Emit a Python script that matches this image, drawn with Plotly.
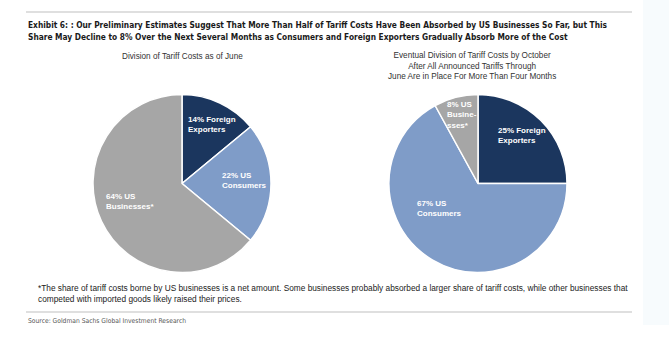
import plotly.graph_objects as go

W, H = 669, 341

# Shares of tariff costs (percent)
categories = ["Foreign Exporters", "US Consumers", "US Businesses*"]
june_shares = [14, 22, 64]
october_shares = [25, 67, 8]
slice_colors = ["#1b365e", "#7f9cc8", "#a6a6a6"]

# In-slice label wording (after the percentage)
june_label_text = ["Foreign<br>Exporters", "US<br>Consumers", "US<br>Businesses*"]
october_label_text = ["Foreign<br>Exporters", "US<br>Consumers", "US<br>Busine-<br>sses*"]

title_lines = [
    "Exhibit 6: : Our Preliminary Estimates Suggest That More Than Half of Tariff Costs Have Been Absorbed by US Businesses So Far, but This",
    "Share May Decline to 8% Over the Next Several Months as Consumers and Foreign Exporters Gradually Absorb More of the Cost",
]
june_title = "Division of Tariff Costs as of June"
october_title = ("Eventual Division of Tariff Costs by October<br>After All Announced Tariffs Through"
                 "<br>June Are in Place For More Than Four Months")
footnote = ("*The share of tariff costs borne by US businesses is a net amount. Some businesses probably absorbed a larger share of tariff costs, while other businesses that"
            "<br>competed with imported goods likely raised their prices.")
source = "Source: Goldman Sachs Global Investment Research"

NARROW = "DejaVu Sans Condensed, DejaVu Sans"


def px_x(x):
    return x / W


def px_y(y):
    return 1 - y / H


def pie_domain(cx, cy, r):
    return dict(x=[px_x(cx - r), px_x(cx + r)], y=[px_y(cy + r), px_y(cy - r)])


fig = go.Figure()

fig.add_trace(go.Pie(
    labels=categories, values=june_shares, sort=False, direction="clockwise", rotation=0,
    marker=dict(colors=slice_colors, line=dict(color="white", width=1.5)),
    textinfo="none", hoverinfo="label+value", showlegend=False,
    domain=pie_domain(182, 183.5, 89),
))
fig.add_trace(go.Pie(
    labels=categories, values=october_shares, sort=False, direction="clockwise", rotation=0,
    marker=dict(colors=slice_colors, line=dict(color="white", width=1.5)),
    textinfo="none", hoverinfo="label+value", showlegend=False,
    domain=pie_domain(478, 183.5, 89),
))

annotations = []


def text_at(x, y, text, size, color="#222222", family="Liberation Sans", xanchor="left",
            align="left", bold=False):
    if bold:
        text = "<b>" + text.replace("<br>", "</b><br><b>") + "</b>"
    annotations.append(dict(
        x=px_x(x), y=px_y(y), xref="paper", yref="paper", text=text, showarrow=False,
        xanchor=xanchor, yanchor="middle", align=align,
        font=dict(size=size, color=color, family=family),
    ))


# Headline
text_at(26, 25, title_lines[0], 8.3, color="#1a1a1a", family=NARROW, bold=True)
text_at(26, 37, title_lines[1], 8.3, color="#1a1a1a", family=NARROW, bold=True)

# Pie titles
text_at(182, 57, june_title, 8.2, color="#333333", xanchor="center", align="center")
text_at(472, 66, october_title, 8.2, color="#333333", xanchor="center", align="center")

# Slice labels (left edge x, vertical centre y)
june_label_pos = [(186, 124), (220, 180.5), (104, 201.5)]
october_label_pos = [(496, 135), (415, 208.5), (445, 115)]
for v, t, (x, y) in zip(june_shares, june_label_text, june_label_pos):
    text_at(x, y, f"{v}% {t}", 8, color="white", bold=True)
for v, t, (x, y) in zip(october_shares, october_label_text, october_label_pos):
    text_at(x, y, f"{v}% {t}", 8, color="white", bold=True)

# Footnote and source
text_at(36, 293.5, footnote, 8.3, color="#222222")
text_at(26, 320.5, source, 6.7, color="#555555", family=NARROW)

shapes = [
    dict(type="rect", xref="paper", yref="paper", x0=px_x(643), x1=1, y0=px_y(325), y1=1,
         fillcolor="#f7fbfd", line=dict(width=0), layer="below"),
    dict(type="line", xref="paper", yref="paper", x0=px_x(26), x1=px_x(632), y0=px_y(12), y1=px_y(12),
         line=dict(color="#d4d4d4", width=1.5)),
    dict(type="line", xref="paper", yref="paper", x0=px_x(26), x1=px_x(632), y0=px_y(312), y1=px_y(312),
         line=dict(color="#d4d4d4", width=1.5)),
]

fig.update_layout(
    width=W, height=H, margin=dict(l=0, r=0, t=0, b=0),
    paper_bgcolor="white", plot_bgcolor="white",
    annotations=annotations, shapes=shapes,
)

fig.write_html("out.html", config={"displayModeBar": False})
